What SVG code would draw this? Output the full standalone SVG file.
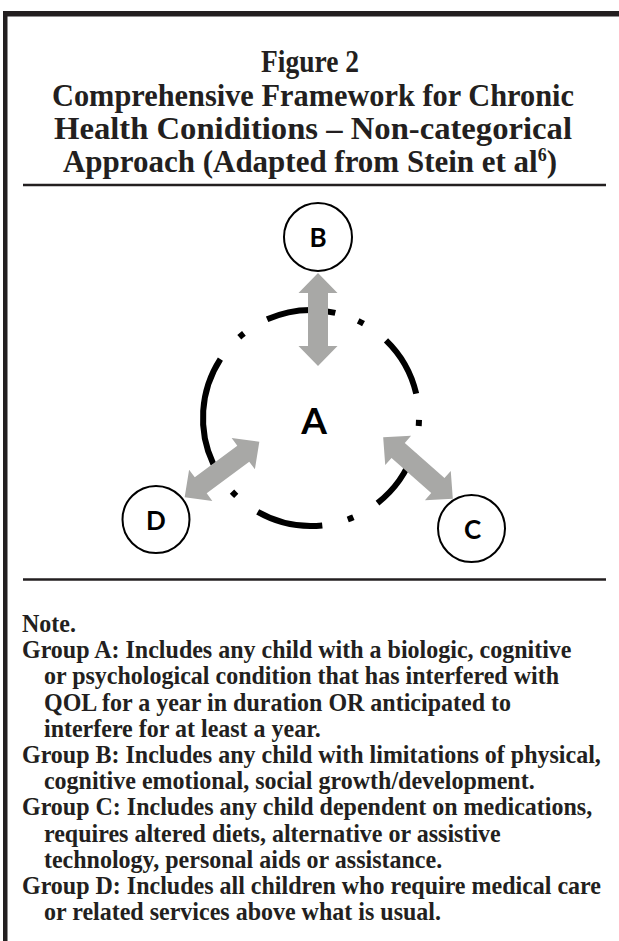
<svg xmlns="http://www.w3.org/2000/svg" xmlns:xlink="http://www.w3.org/1999/xlink" width="619" height="941" viewBox="0 0 619 941">
<style>
.title{font-family:"Liberation Serif",serif;font-weight:bold;font-size:31px;fill:#231f20;text-anchor:middle}
.note{font-family:"Liberation Serif",serif;font-weight:bold;font-size:25px;fill:#231f20}
.lbl{font-family:Lato,"Open Sans",sans-serif;font-weight:bold;fill:#000;text-anchor:middle}
.node{fill:#fff;stroke:#000;stroke-width:2}
.ring{fill:none;stroke:#000;stroke-width:6}
.rule{stroke:#231f20;stroke-width:2.5}
</style>
<defs>
<polygon id="arrow" fill="#a8a8a6" points="-46.5,0 -26.5,-19.5 -26.5,-10 26.5,-10 26.5,-19.5 46.5,0 26.5,19.5 26.5,10 -26.5,10 -26.5,19.5"/>
</defs>
<rect x="3" y="11" width="4.5" height="930" fill="#231f20"/>
<rect x="3" y="11" width="616" height="5.5" fill="#231f20"/>
<g id="title">
<text class="title" x="310" y="72" textLength="98" lengthAdjust="spacingAndGlyphs">Figure 2</text>
<text class="title" x="313" y="106" textLength="522" lengthAdjust="spacingAndGlyphs">Comprehensive Framework for Chronic</text>
<text class="title" x="313" y="139" textLength="518" lengthAdjust="spacingAndGlyphs">Health Coniditions – Non-categorical</text>
<text class="title" x="310" y="172" textLength="494" lengthAdjust="spacingAndGlyphs">Approach (Adapted from Stein et al<tspan font-size="18" dy="-11">6</tspan><tspan dy="11">)</tspan></text>
</g>
<line class="rule" x1="23" y1="185" x2="606" y2="185"/>
<g id="nodeA">
<g class="ring">
<path d="M413.4,452.4 A108,108 0 0 1 377.5,503.1"/>
<path d="M322.3,525.4 A108,108 0 0 1 257.7,511.9"/>
<path d="M213.4,464.3 A108,108 0 0 1 220.4,359.2"/>
<path d="M267.1,319.3 A108,108 0 0 1 335.3,312.8"/>
<path d="M386.0,340.3 A108,108 0 0 1 416.2,393.7"/>
<path d="M418.98,419.88 A108,108 0 0 1 418.71,425.91"/>
<path d="M353.37,517.34 A108,108 0 0 1 347.76,519.55"/>
<path d="M236.25,495.95 A108,108 0 0 1 232.01,491.66"/>
<path d="M239.30,337.24 A108,108 0 0 1 243.92,333.36"/>
<path d="M358.17,320.84 A108,108 0 0 1 363.52,323.63"/>
</g>
<text class="lbl" x="314" y="434" font-size="37">A</text>
</g>
<g id="connectors">
<use xlink:href="#arrow" transform="translate(318,319.5) rotate(90)"/>
<use xlink:href="#arrow" transform="translate(222,469.5) rotate(-36.6)"/>
<use xlink:href="#arrow" transform="translate(418,468) rotate(41.5)"/>
</g>
<g id="nodeB">
<circle class="node" cx="318" cy="237" r="34"/>
<text class="lbl" x="318" y="247" font-size="26">B</text>
</g>
<g id="nodeD">
<circle class="node" cx="156" cy="519.5" r="33.5"/>
<text class="lbl" x="156" y="529.5" font-size="26">D</text>
</g>
<g id="nodeC">
<circle class="node" cx="471.5" cy="528.5" r="33.5"/>
<text class="lbl" x="472.5" y="539" font-size="26">C</text>
</g>
<line class="rule" x1="23" y1="579.5" x2="606" y2="579.5"/>
<g id="notes" transform="scale(0.96 1)">
<text class="note" x="22.9" y="632">Note.</text>
<text class="note" x="22.9" y="658.2">Group A: Includes any child with a biologic, cognitive</text>
<text class="note" x="45.8" y="684.4">or psychological condition that has interfered with</text>
<text class="note" x="45.8" y="710.6">QOL for a year in duration OR anticipated to</text>
<text class="note" x="45.8" y="736.8">interfere for at least a year.</text>
<text class="note" x="22.9" y="763">Group B: Includes any child with limitations of physical,</text>
<text class="note" x="45.8" y="789.2">cognitive emotional, social growth/development.</text>
<text class="note" x="22.9" y="815.4">Group C: Includes any child dependent on medications,</text>
<text class="note" x="45.8" y="841.6">requires altered diets, alternative or assistive</text>
<text class="note" x="45.8" y="867.8">technology, personal aids or assistance.</text>
<text class="note" x="22.9" y="894">Group D: Includes all children who require medical care</text>
<text class="note" x="45.8" y="920.2">or related services above what is usual.</text>
</g>
</svg>
